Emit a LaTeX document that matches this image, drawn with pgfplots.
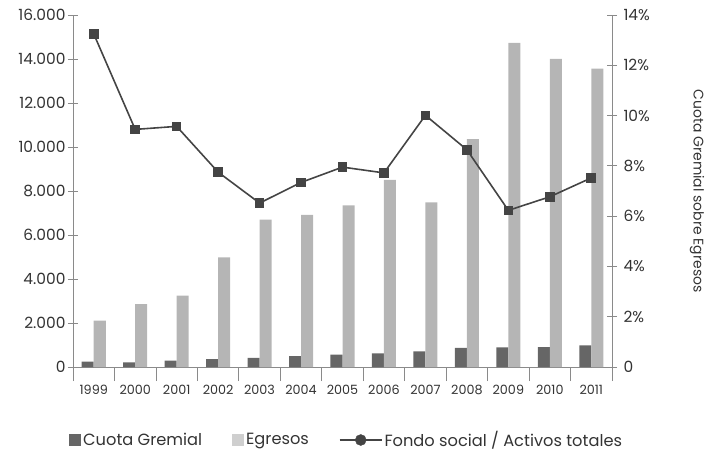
\documentclass[border=0pt]{standalone}
\usepackage{pgfplots}
\pgfplotsset{compat=1.18}
\usepackage{fontspec}
\setmainfont{Poppins}
\definecolor{darkbar}{HTML}{666666}
\definecolor{lightbar}{HTML}{B5B5B5}
\definecolor{lightleg}{HTML}{CFCFCF}
\definecolor{linec}{HTML}{444444}
\definecolor{axc}{HTML}{8A8A8A}
\definecolor{txt}{HTML}{333333}
\begin{document}
\begin{tikzpicture}
\begin{axis}[
  scale only axis, width=539bp, height=352bp,
  xmin=-0.5, xmax=12.5, ymin=0, ymax=16000,
  scaled y ticks=false,
  axis x line*=bottom, axis y line*=left,
  axis line style={axc, line width=0.8pt, -},
  tick style={axc, line width=0.8pt},
  tick align=center,
  major tick length=10bp, minor tick length=14bp,
  xtick={0,...,12},
  xticklabels={1999,2000,2001,2002,2003,2004,2005,2006,2007,2008,2009,2010,2011},
  minor xtick={-0.5,0.5,...,12.5},
  major x tick style={draw=none},
  ytick={0,2000,...,16000},
  yticklabels={0,2.000,4.000,6.000,8.000,10.000,12.000,14.000,16.000},
  xticklabel style={font=\fontsize{12.8}{14}\selectfont, text=txt, yshift=-5bp},
  yticklabel style={font=\fontsize{15.5}{17}\selectfont, text=txt, xshift=1bp},
  ybar, bar width=0.29,
  legend style={at={(rel axis cs:0,0)}, anchor=west, xshift=-7bp, yshift=-73bp,
    draw=none, fill=none, font=\fontsize{16.3}{18}\selectfont, text=txt,
    /tikz/every even column/.append style={column sep=28bp}},
  legend columns=3,
]
\coordinate (o) at (rel axis cs:0,0);
\addplot[fill=darkbar, draw=none, bar shift=-0.145, area legend,
  legend image code/.code={\fill[darkbar] (0bp,-6bp) rectangle (12bp,6bp);}]
  coordinates {(0,245) (1,215) (2,290) (3,360) (4,420) (5,500) (6,560) (7,620) (8,710) (9,865) (10,895) (11,900) (12,985)};
\addlegendentry{Cuota Gremial}
\addplot[fill=lightbar, draw=none, bar shift=0.145, area legend,
  legend image code/.code={\fill[lightleg] (0bp,-6bp) rectangle (12bp,6bp);}]
  coordinates {(0,2110) (1,2860) (2,3240) (3,4980) (4,6700) (5,6920) (6,7350) (7,8510) (8,7480) (9,10360) (10,14730) (11,14010) (12,13560)};
\addlegendentry{Egresos}
\addlegendimage{legend image code/.code={
  \draw[linec, line width=1.6pt] (0bp,0bp) -- (42bp,0bp);
  \fill[linec] (21bp,0bp) circle (5.5bp);}}
\addlegendentry{Fondo social / Activos totales}
\end{axis}
\begin{axis}[
  scale only axis, width=539bp, height=352bp,
  xmin=-0.5, xmax=12.5, ymin=0, ymax=14,
  axis x line=none, axis y line*=right,
  axis line style={axc, line width=0.8pt, -},
  tick style={axc, line width=0.8pt},
  tick align=center, major tick length=10bp,
  ytick={0,2,...,14},
  yticklabels={0,2\%,4\%,6\%,8\%,10\%,12\%,14\%},
  yticklabel style={font=\fontsize{15.5}{17}\selectfont, text=txt, xshift=3bp},
  ylabel={Cuota Gremial sobre Egresos},
  every axis y label/.style={at={(rel axis cs:1,0.5)}, xshift=85bp, rotate=-90, anchor=center,
    font=\fontsize{14}{16}\selectfont, text=txt},
]
\addplot[linec, line width=1.6pt, mark=square*, mark size=4bp, mark options={fill=linec, draw=linec}]
  coordinates {(0,13.25) (1,9.45) (2,9.57) (3,7.75) (4,6.52) (5,7.34) (6,7.95) (7,7.72) (8,10.01) (9,8.64) (10,6.23) (11,6.77) (12,7.52)};
\end{axis}
\pgfresetboundingbox
\path (o) ++(-73bp,-85bp) rectangle ++(705bp,452bp);
\end{tikzpicture}
\end{document}
